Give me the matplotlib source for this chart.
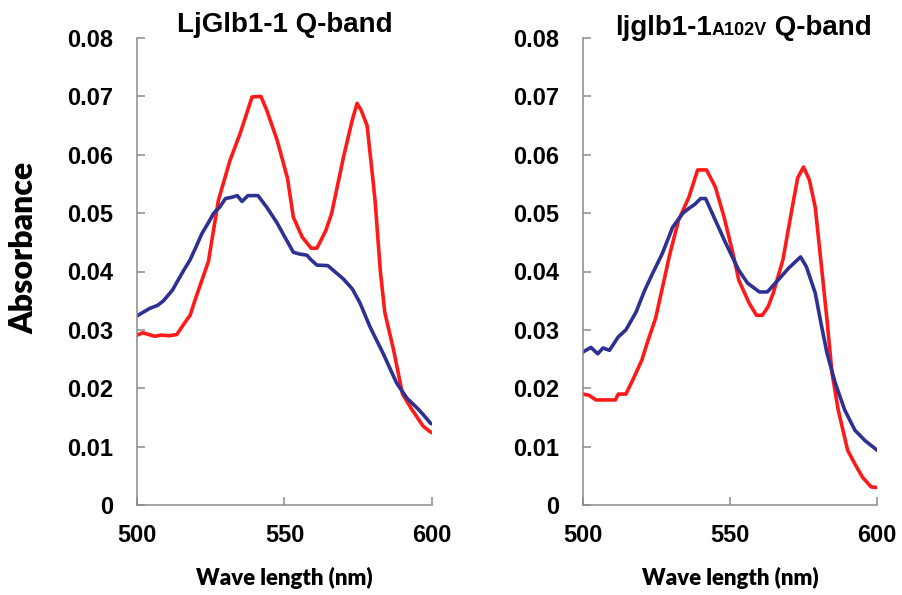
import matplotlib
matplotlib.use("Agg")
import matplotlib.pyplot as plt

# ---------------- data ----------------
wl_left_red = [500, 502, 504, 506, 508, 511, 513.5, 515.6, 518, 520, 522, 524.2, 527.6, 531.5,
               535, 539, 542, 544, 547.5, 551, 553, 556, 559, 561, 564, 566, 570, 573, 574.6,
               576, 578, 580, 580.7, 582.5, 584, 587, 590, 593, 595, 597, 599.5, 600]
abs_left_red = [0.0291, 0.0295, 0.0292, 0.0289, 0.0291, 0.029, 0.0292, 0.0308, 0.0325, 0.0356,
                0.0385, 0.0417, 0.0522, 0.059, 0.0637, 0.0699, 0.070, 0.0676, 0.0625, 0.056,
                0.0493, 0.0459, 0.044, 0.044, 0.047, 0.050, 0.0596, 0.066, 0.0688, 0.0676,
                0.065, 0.0556, 0.0522, 0.040, 0.033, 0.0265, 0.019, 0.0165, 0.015, 0.0135,
                0.0125, 0.0124]

wl_left_blue = [500, 502, 504.4, 507, 509, 512, 515.6, 518, 520, 522, 524.7, 526, 528, 530, 532,
                534, 535.6, 537.6, 541, 544, 547.5, 550, 553, 555, 557.6, 559, 561, 564.7, 567,
                570, 573, 575.6, 579, 583.4, 588, 591.5, 595, 597, 599.5, 600]
abs_left_blue = [0.0324, 0.033, 0.0337, 0.0342, 0.035, 0.0368, 0.040, 0.042, 0.0442, 0.0465,
                 0.0488, 0.050, 0.051, 0.0525, 0.0527, 0.053, 0.052, 0.053, 0.053, 0.051, 0.0483,
                 0.046, 0.0433, 0.043, 0.0428, 0.042, 0.0411, 0.041, 0.040, 0.0387, 0.037,
                 0.0346, 0.0305, 0.026, 0.0209, 0.0183, 0.0166, 0.0155, 0.014, 0.0139]

wl_right_red = [500, 502, 504.4, 508, 511, 512, 514.6, 517, 520, 522, 524.7, 528.1, 529.3,
                532.5, 536, 539, 542, 545, 548, 551, 553, 556.5, 559, 561, 563, 564.7, 568,
                571, 573, 575, 577, 579, 581, 583, 584.7, 586.8, 590, 592.5, 595, 598, 600]
abs_right_red = [0.019, 0.0188, 0.018, 0.018, 0.018, 0.019, 0.019, 0.0215, 0.0248, 0.028, 0.032,
                 0.0397, 0.0425, 0.0488, 0.0527, 0.0574, 0.0574, 0.0545, 0.0493, 0.0431, 0.0385,
                 0.0346, 0.0325, 0.0325, 0.034, 0.0363, 0.042, 0.0505, 0.056, 0.0579, 0.0557,
                 0.051, 0.0414, 0.0317, 0.0226, 0.0163, 0.0094, 0.007, 0.0048, 0.0031, 0.003]

wl_right_blue = [500, 502.7, 505, 506.8, 509, 512, 514.6, 518, 521, 523.7, 527, 530.5, 534, 536,
                 538, 540, 541.7, 545, 548.5, 553, 556, 560, 562.7, 565.4, 570, 574, 576, 579,
                 581, 583, 585.8, 589, 592.5, 596, 600]
abs_right_blue = [0.0262, 0.027, 0.0259, 0.0269, 0.0265, 0.0288, 0.030, 0.033, 0.0368, 0.0397,
                  0.0431, 0.0476, 0.050, 0.0508, 0.0515, 0.0525, 0.0525, 0.0488, 0.0449, 0.0402,
                  0.038, 0.0365, 0.0365, 0.038, 0.0406, 0.0425, 0.0408, 0.0363, 0.031, 0.026,
                  0.0209, 0.0163, 0.0128, 0.011, 0.0094]

xticks = [500, 550, 600]
yticks = [0, 0.01, 0.02, 0.03, 0.04, 0.05, 0.06, 0.07, 0.08]
ytick_labels = ["0", "0.01", "0.02", "0.03", "0.04", "0.05", "0.06", "0.07", "0.08"]
title_left = "LjGlb1-1 Q-band"
title_right_parts = ["ljglb1-1", "A102V", " Q-band"]
xlabel = "Wave length (nm)"
ylabel = "Absorbance"

RED = "#ff1a1a"
BLUE = "#2e3192"
SPINE = "#8a8a8a"

W, H = 902, 595
fig = plt.figure(figsize=(W / 100, H / 100), dpi=100)
fig.patch.set_facecolor("white")

tick_font = dict(family="Liberation Sans", weight="bold", size=17)
label_font = dict(family="Lato", weight="heavy", size=16)


def make_ax(left_px, right_px):
    ax = fig.add_axes([left_px / W, (H - 505) / H, (right_px - left_px) / W, (505 - 38) / H])
    ax.set_xlim(500, 600)
    ax.set_ylim(0, 0.08)
    for s in ("top", "right"):
        ax.spines[s].set_visible(False)
    for s in ("left", "bottom"):
        ax.spines[s].set_color(SPINE)
        ax.spines[s].set_linewidth(1.1)
    ax.set_xticks(xticks)
    ax.set_xticklabels([str(t) for t in xticks], **tick_font)
    ax.set_yticks(yticks)
    ax.set_yticklabels(ytick_labels, **tick_font)
    ax.tick_params(axis="both", direction="in", length=6, width=1.1, color=SPINE)
    ax.tick_params(axis="y", pad=17)
    ax.tick_params(axis="x", pad=14)
    ax.set_xlabel(xlabel, fontdict=label_font, labelpad=14)
    return ax


LW = 2.6
ax1 = make_ax(137, 432)
ax1.plot(wl_left_red, abs_left_red, color=RED, lw=LW, solid_joinstyle="round")
ax1.plot(wl_left_blue, abs_left_blue, color=BLUE, lw=LW, solid_joinstyle="round")
ax1.set_title(title_left, family="Liberation Sans", weight="bold", size=20, pad=4)
ax1.set_ylabel(ylabel, fontdict=dict(family="Lato", weight="heavy", size=23))
ax1.yaxis.set_label_coords((38 - 137) / 295, (505 - 248) / 467)

ax2 = make_ax(583, 877)
ax2.plot(wl_right_red, abs_right_red, color=RED, lw=LW, solid_joinstyle="round")
ax2.plot(wl_right_blue, abs_right_blue, color=BLUE, lw=LW, solid_joinstyle="round")

# composite title for right panel
renderer = fig.canvas.get_renderer()
x0 = 615 / W
ybase = (H - 35) / H
sizes = [20, 13, 20]
for part, sz in zip(title_right_parts, sizes):
    t = fig.text(x0, ybase, part, family="Liberation Sans", weight="bold", size=sz,
                 ha="left", va="baseline")
    bb = t.get_window_extent(renderer=renderer)
    x0 += bb.width / W

fig.savefig("out.png", dpi=100, facecolor="white")
